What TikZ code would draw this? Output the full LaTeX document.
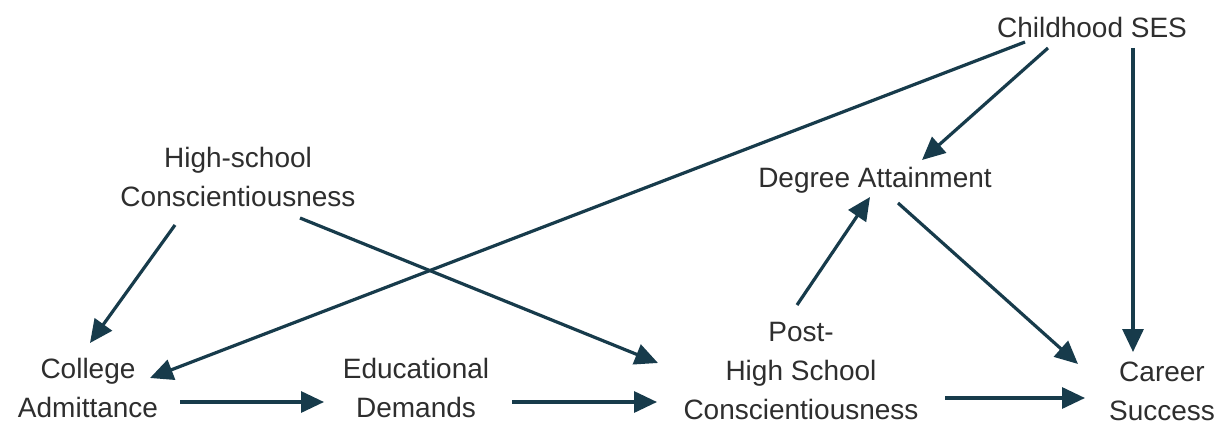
\documentclass[tikz,border=0pt]{standalone}
\usepackage{fontspec}
\setmainfont{Liberation Sans}
\usetikzlibrary{arrows.meta,calc}
\definecolor{inkline}{HTML}{173B4B}
\definecolor{inktext}{HTML}{2E2E2E}
\tikzset{
  label text/.style={font=\fontsize{28}{39}\selectfont, text=inktext, align=center, inner sep=0pt},
  link/.style={draw=inkline, line width=3.2pt, -{Triangle[length=23pt,width=21pt]}}
}
\begin{document}
\begin{tikzpicture}[x=1pt,y=-1pt]
  \useasboundingbox[fill=white] (0,0) rectangle (1225,425);

  % variables
  \node[label text] (ses)  at (1092,27)   {Childhood SES};
  \node[label text] (hs)   at (238,176.5) {High-school\\Conscientiousness};
  \node[label text] (deg)  at (875,180)   {Degree Attainment};
  \node[label text] (col)  at (88,388)    {College\\Admittance};
  \node[label text] (edu)  at (416,388)   {Educational\\Demands};
  \node[label text] (post) at (801,371)   {Post-\\High School\\Conscientiousness};
  \node[label text] (car)  at (1162,391)  {Career\\Success};

  % causal paths
  \draw[link] ($(ses)+(-67,15)$)  -- ($(col)+(62,-10)$);
  \draw[link] ($(ses)+(-44,21)$)  -- ($(deg)+(47,-20)$);
  \draw[link] ($(ses)+(41,21)$)   -- ($(car)+(-29,-39)$);
  \draw[link] ($(hs)+(-63,48.5)$) -- ($(col)+(2,-45)$);
  \draw[link] ($(hs)+(62,41.5)$)  -- ($(post)+(-143,-8)$);
  \draw[link] ($(col)+(92,14)$)   -- ($(edu)+(-92,14)$);
  \draw[link] ($(edu)+(96,14)$)   -- ($(post)+(-144,31)$);
  \draw[link] ($(post)+(-4,-66)$) -- ($(deg)+(-5,17)$);
  \draw[link] ($(deg)+(23,23)$)   -- ($(car)+(-84,-27)$);
  \draw[link] ($(post)+(144,27)$) -- ($(car)+(-77,7)$);
\end{tikzpicture}
\end{document}
